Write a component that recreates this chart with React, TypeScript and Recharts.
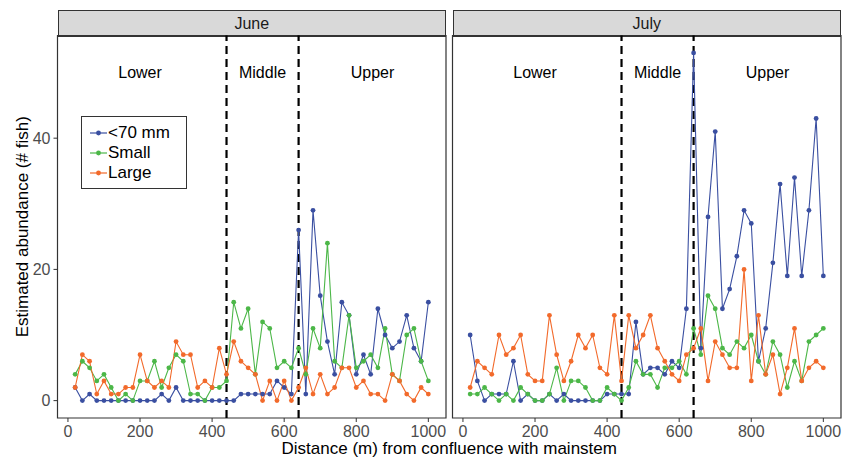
import { Legend, Line, LineChart, ReferenceArea, ReferenceDot, ReferenceLine, XAxis, YAxis } from "recharts";

// sampling points along the stream (m from confluence)
const distances = [
  20, 40, 60, 80, 100, 120, 140, 160, 180, 200, 220, 240, 260, 280, 300, 320, 340, 360, 380, 400, 420, 440, 460, 480, 500,
  520, 540, 560, 580, 600, 620, 640, 660, 680, 700, 720, 740, 760, 780, 800, 820, 840, 860, 880, 900, 920, 940, 960, 980, 1000
];

const juneUnder70 = [
  2, 0, 1, 0, 0, 0, 0, 0, 0, 0, 0, 0, 1, 0, 2, 0, 0, 0, 0, 0, 0, 0, 0, 1, 1,
  1, 1, 1, 3, 2, 1, 26, 1, 29, 16, 9, 4, 15, 13, 4, 7, 4, 14, 10, 8, 9, 13, 8, 6, 15
];
const juneSmall = [
  4, 6, 5, 3, 4, 2, 0, 1, 0, 3, 3, 6, 2, 5, 7, 6, 1, 1, 0, 2, 2, 3, 15, 11, 14,
  4, 12, 11, 5, 6, 5, 8, 4, 11, 8, 24, 6, 5, 13, 5, 6, 7, 5, 11, 4, 3, 10, 11, 6, 3
];
const juneLarge = [
  2, 7, 6, 1, 3, 1, 1, 2, 2, 7, 3, 2, 3, 2, 9, 7, 7, 2, 3, 2, 8, 4, 9, 6, 5,
  4, 0, 3, 0, 3, 0, 2, 5, 1, 4, 1, 2, 5, 5, 2, 3, 1, 1, 0, 4, 3, 1, 0, 2, 1
];

const julyUnder70 = [
  10, 3, 0, 1, 1, 1, 6, 0, 1, 0, 0, 1, 0, 1, 0, 0, 0, 0, 0, 1, 1, 1, 1, 12, 4,
  5, 5, 4, 6, 5, 14, 53, 8, 28, 41, 14, 17, 22, 29, 27, 6, 11, 21, 33, 19, 34, 19, 29, 43, 19
];
const julySmall = [
  1, 1, 2, 1, 0, 1, 0, 2, 1, 0, 0, 1, 5, 0, 3, 3, 2, 0, 0, 2, 1, 0, 2, 6, 4,
  4, 2, 5, 5, 6, 4, 11, 7, 16, 14, 8, 7, 9, 8, 10, 6, 4, 9, 7, 2, 6, 3, 9, 10, 11
];
const julyLarge = [
  2, 6, 5, 4, 10, 7, 8, 10, 4, 3, 3, 13, 7, 3, 6, 10, 8, 10, 5, 4, 13, 3, 13, 8, 10,
  13, 8, 6, 4, 3, 7, 8, 11, 3, 9, 7, 5, 5, 20, 3, 13, 4, 7, 1, 5, 11, 3, 5, 6, 5
];

const seriesKeys = ["under70", "small", "large"];
const seriesNames = ["<70 mm", "Small", "Large"];
const seriesColors = ["#3a4fa1", "#4cb748", "#f26a2b"];

const sectionBreaks = [440, 640];
const sectionNames = ["Lower", "Middle", "Upper"];
const sectionCenters = [200, 540, 845];

const xTicks = [0, 200, 400, 600, 800, 1000];
const yTicks = [0, 20, 40];
const xDomain: [number, number] = [-29, 1049];
const yDomain: [number, number] = [-2.65, 55.65];

const FONT = "'Liberation Sans', Arial, Helvetica, sans-serif";
const PLOT_TOP = 35.5;
const PLOT_WIDTH = 388.5;

function buildRows(under70: number[], small: number[], large: number[]) {
  return distances.map((distance, i) => ({
    distance,
    under70: under70[i],
    small: small[i],
    large: large[i]
  }));
}

const juneRows = buildRows(juneUnder70, juneSmall, juneLarge);
const julyRows = buildRows(julyUnder70, julySmall, julyLarge);

function LegendBox({ payload }: any) {
  // keep the series order, recharts sorts legend items by name
  const items = [...(payload || [])].sort(
    (a: any, b: any) => seriesNames.indexOf(a.value) - seriesNames.indexOf(b.value)
  );

  return (
    <div
      style={{
        width: 106,
        height: 73,
        boxSizing: "border-box",
        border: "1px solid #333",
        background: "#fff",
        padding: "6px 0 0 8px",
        fontFamily: FONT
      }}
    >
      {items.map((item: any) => (
        <div key={item.value} style={{ display: "flex", alignItems: "center", height: 20 }}>
          <svg width={17} height={10}>
            <line x1={0} x2={17} y1={5} y2={5} stroke={item.color} strokeWidth={1.2} />
            <circle cx={8.5} cy={5} r={2.4} fill={item.color} />
          </svg>
          <span style={{ marginLeft: 1, fontSize: 17, color: "#000", lineHeight: "20px" }}>{item.value}</span>
        </div>
      ))}
    </div>
  );
}

function Panel({
  title,
  rows,
  left,
  width,
  marginLeft,
  marginRight,
  showYAxis
}: {
  title: string;
  rows: ReturnType<typeof buildRows>;
  left: number;
  width: number;
  marginLeft: number;
  marginRight: number;
  showYAxis: boolean;
}) {
  const plotLeft = left + marginLeft + (showYAxis ? 57.5 : 0);

  return (
    <>
      <div
        style={{
          position: "absolute",
          left: plotLeft,
          top: 9.5,
          width: PLOT_WIDTH,
          height: 27,
          boxSizing: "border-box",
          border: "1px solid #333",
          background: "#d9d9d9",
          textAlign: "center",
          fontSize: 16,
          lineHeight: "25px",
          color: "#1a1a1a"
        }}
      >
        {title}
      </div>
      <div style={{ position: "absolute", left, top: 0 }}>
        <LineChart
          width={width}
          height={458}
          data={rows}
          margin={{ top: PLOT_TOP, right: marginRight, bottom: 10, left: marginLeft }}
        >
          <ReferenceArea
            x1={xDomain[0]}
            x2={xDomain[1]}
            y1={yDomain[0]}
            y2={yDomain[1]}
            fill="#fff"
            fillOpacity={0}
            stroke="#333"
            strokeWidth={1.2}
          />
          <XAxis
            dataKey="distance"
            type="number"
            domain={xDomain}
            ticks={xTicks}
            allowDataOverflow
            axisLine={false}
            tickLine={{ stroke: "#333" }}
            tickSize={4}
            tickMargin={4}
            height={30}
            tick={{ fill: "#4d4d4d", fontSize: 16 }}
          />
          <YAxis
            type="number"
            domain={yDomain}
            ticks={yTicks}
            allowDataOverflow
            hide={!showYAxis}
            width={57.5}
            axisLine={false}
            tickLine={{ stroke: "#333" }}
            tickSize={4}
            tickMargin={3}
            tick={{ fill: "#4d4d4d", fontSize: 16 }}
            label={{
              value: "Estimated abundance (# fish)",
              angle: -90,
              position: "insideLeft",
              offset: 22,
              fill: "#000",
              fontSize: 17,
              style: { textAnchor: "middle" }
            }}
          />
          {sectionBreaks.map((x) => (
            <ReferenceLine key={x} x={x} stroke="#000" strokeWidth={2.2} strokeDasharray="8 5" />
          ))}
          {sectionNames.map((name, i) => (
            <ReferenceDot
              key={name}
              x={sectionCenters[i]}
              y={50}
              r={0}
              fill="none"
              stroke="none"
              label={{ value: name, position: "center", fill: "#000", fontSize: 16 }}
            />
          ))}
          {seriesKeys.map((key, i) => (
            <Line
              key={key}
              dataKey={key}
              name={seriesNames[i]}
              type="linear"
              stroke={seriesColors[i]}
              strokeWidth={1.1}
              dot={{ r: 2.4, fill: seriesColors[i], stroke: seriesColors[i], strokeWidth: 0 }}
              activeDot={false}
              isAnimationActive={false}
            />
          ))}
          {showYAxis && (
            <Legend
              layout="vertical"
              align="center"
              verticalAlign="middle"
              content={<LegendBox />}
              wrapperStyle={{ left: 81, top: 116, width: 106, height: 73 }}
            />
          )}
        </LineChart>
      </div>
    </>
  );
}

export default function App() {
  return (
    <div
      style={{
        position: "absolute",
        left: 0,
        top: 0,
        width: 844,
        height: 458,
        background: "#fff",
        fontFamily: FONT
      }}
    >
      <Panel title="June" rows={juneRows} left={0} width={450} marginLeft={0} marginRight={4} showYAxis />
      <Panel title="July" rows={julyRows} left={446} width={398} marginLeft={6.5} marginRight={3} showYAxis={false} />
      <div
        style={{
          position: "absolute",
          left: 57.5,
          top: 439,
          width: 783.5,
          textAlign: "center",
          fontSize: 17,
          lineHeight: "20px",
          color: "#000"
        }}
      >
        Distance (m) from confluence with mainstem
      </div>
    </div>
  );
}
